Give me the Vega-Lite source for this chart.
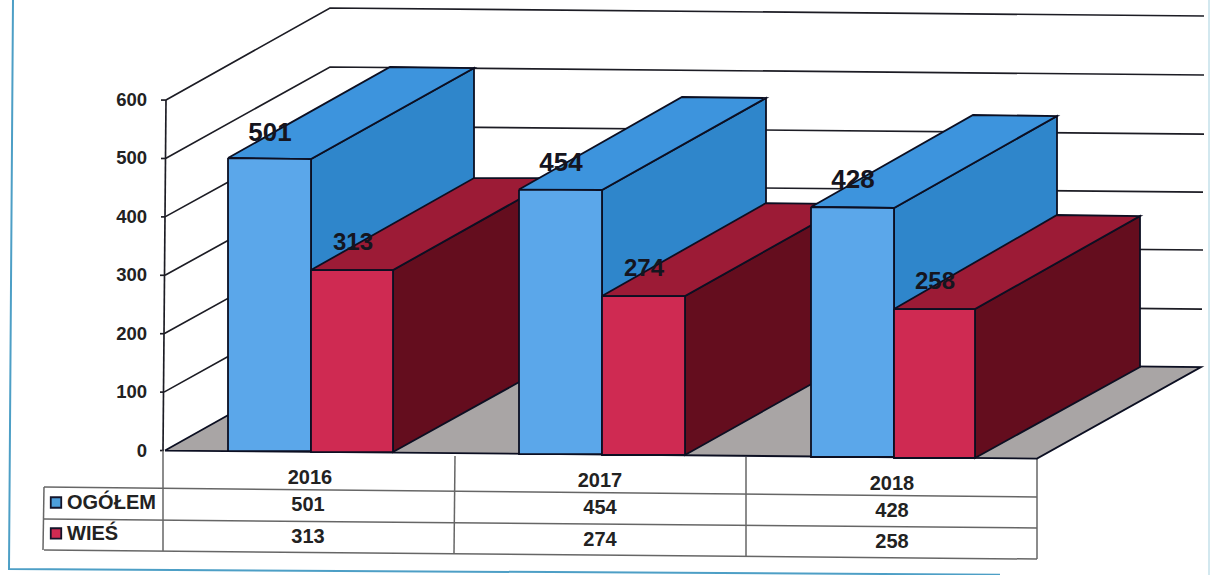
{"$schema":"https://vega.github.io/schema/vega-lite/v6.json","width":1210,"height":575,"autosize":"none","padding":0,"background":"#ffffff","view":{"stroke":null},
"datasets":{
"lines":[
{"id":"frameL","kind":"frame","across":13,"reading":771.3,"i":0},{"id":"frameL","kind":"frame","across":9,"reading":-202.9,"i":1},{"id":"frameL","kind":"frame","across":1000,"reading":-212.5,"i":2},
{"id":"frameR","kind":"frame light","across":1209,"reading":771.3,"i":0},{"id":"frameR","kind":"frame light","across":1209,"reading":-213,"i":1},
{"id":"g600","kind":"grid","across":166,"reading":600,"i":0},{"id":"g600","kind":"grid","across":330,"reading":757.6,"i":1},{"id":"g600","kind":"grid","across":1204,"reading":743.9,"i":2},
{"id":"g500","kind":"grid","across":165.5,"reading":500,"i":0},{"id":"g500","kind":"grid","across":330,"reading":656.6,"i":1},{"id":"g500","kind":"grid","across":1204,"reading":642.9,"i":2},
{"id":"g400","kind":"grid","across":165,"reading":400,"i":0},{"id":"g400","kind":"grid","across":330,"reading":555.5,"i":1},{"id":"g400","kind":"grid","across":1204,"reading":541.8,"i":2},
{"id":"g300","kind":"grid","across":165,"reading":300,"i":0},{"id":"g300","kind":"grid","across":330,"reading":456.2,"i":1},{"id":"g300","kind":"grid","across":1203,"reading":442.5,"i":2},
{"id":"g200","kind":"grid","across":164,"reading":200,"i":0},{"id":"g200","kind":"grid","across":330,"reading":356.9,"i":1},{"id":"g200","kind":"grid","across":1203,"reading":343.3,"i":2},
{"id":"g100","kind":"grid","across":164,"reading":100,"i":0},{"id":"g100","kind":"grid","across":330,"reading":257.7,"i":1},{"id":"g100","kind":"grid","across":1202,"reading":242.2,"i":2},
{"id":"axis","kind":"grid","across":166,"reading":600,"i":0},{"id":"axis","kind":"grid","across":163,"reading":0,"i":1},
{"id":"t600","kind":"grid","across":161,"reading":600,"i":0},{"id":"t600","kind":"grid","across":166,"reading":600,"i":1},
{"id":"t500","kind":"grid","across":161,"reading":500,"i":0},{"id":"t500","kind":"grid","across":166,"reading":500,"i":1},
{"id":"t400","kind":"grid","across":161,"reading":400,"i":0},{"id":"t400","kind":"grid","across":165,"reading":400,"i":1},
{"id":"t300","kind":"grid","across":160,"reading":300,"i":0},{"id":"t300","kind":"grid","across":165,"reading":300,"i":1},
{"id":"t200","kind":"grid","across":160,"reading":200,"i":0},{"id":"t200","kind":"grid","across":164,"reading":200,"i":1},
{"id":"t100","kind":"grid","across":160,"reading":100,"i":0},{"id":"t100","kind":"grid","across":164,"reading":100,"i":1},
{"id":"t0","kind":"grid","across":160,"reading":0,"i":0},{"id":"t0","kind":"grid","across":164,"reading":0,"i":1},
{"id":"h1","kind":"table","across":44,"reading":-62.5,"i":0},{"id":"h1","kind":"table","across":1037,"reading":-79.6,"i":1},
{"id":"h2","kind":"table","across":44,"reading":-117.3,"i":0},{"id":"h2","kind":"table","across":1037,"reading":-132.7,"i":1},
{"id":"h3","kind":"table","across":44,"reading":-170.3,"i":0},{"id":"h3","kind":"table","across":1037,"reading":-185.8,"i":1},
{"id":"v0","kind":"table","across":44,"reading":-62.5,"i":0},{"id":"v0","kind":"table","across":43,"reading":-170.3,"i":1},
{"id":"v1","kind":"table","across":163,"reading":0,"i":0},{"id":"v1","kind":"table","across":163,"reading":-172,"i":1},
{"id":"v2","kind":"table","across":455,"reading":-9.4,"i":0},{"id":"v2","kind":"table","across":454,"reading":-177.2,"i":1},
{"id":"v3","kind":"table","across":746,"reading":-11.1,"i":0},{"id":"v3","kind":"table","across":746,"reading":-180.6,"i":1},
{"id":"v4","kind":"table","across":1037,"reading":-13.7,"i":0},{"id":"v4","kind":"table","across":1037,"reading":-185.8,"i":1}
],
"faces":[
{"id":"floor","face":"floor","across":165,"reading":0,"i":0},{"id":"floor","face":"floor","across":1037,"reading":-13.7,"i":1},{"id":"floor","face":"floor","across":1201,"reading":143,"i":2},{"id":"floor","face":"floor","across":330,"reading":158.4,"i":3},{"id":"floor","face":"floor","across":165,"reading":0,"i":4},
{"id":"a1s","face":"blue side","across":311,"reading":499,"i":0},{"id":"a1s","face":"blue side","across":474,"reading":654.8,"i":1},{"id":"a1s","face":"blue side","across":474,"reading":154.9,"i":2},{"id":"a1s","face":"blue side","across":311,"reading":-1,"i":3},{"id":"a1s","face":"blue side","across":311,"reading":499,"i":4},
{"id":"a1t","face":"blue top","across":228,"reading":500.8,"i":0},{"id":"a1t","face":"blue top","across":311,"reading":499,"i":1},{"id":"a1t","face":"blue top","across":474,"reading":654.8,"i":2},{"id":"a1t","face":"blue top","across":390,"reading":656.6,"i":3},{"id":"a1t","face":"blue top","across":228,"reading":500.8,"i":4},
{"id":"a1f","face":"blue front","across":228,"reading":500.8,"i":0},{"id":"a1f","face":"blue front","across":311,"reading":499,"i":1},{"id":"a1f","face":"blue front","across":311,"reading":-1,"i":2},{"id":"a1f","face":"blue front","across":228,"reading":-1,"i":3},{"id":"a1f","face":"blue front","across":228,"reading":500.8,"i":4},
{"id":"b1s","face":"red side","across":393,"reading":309,"i":0},{"id":"b1s","face":"red side","across":557,"reading":466.5,"i":1},{"id":"b1s","face":"red side","across":557,"reading":153.2,"i":2},{"id":"b1s","face":"red side","across":393,"reading":-2.6,"i":3},{"id":"b1s","face":"red side","across":393,"reading":309,"i":4},
{"id":"b1t","face":"red top","across":311,"reading":309,"i":0},{"id":"b1t","face":"red top","across":393,"reading":309,"i":1},{"id":"b1t","face":"red top","across":557,"reading":466.5,"i":2},{"id":"b1t","face":"red top","across":474,"reading":466.5,"i":3},{"id":"b1t","face":"red top","across":311,"reading":309,"i":4},
{"id":"b1f","face":"red front","across":311,"reading":309,"i":0},{"id":"b1f","face":"red front","across":393,"reading":309,"i":1},{"id":"b1f","face":"red front","across":393,"reading":-2.6,"i":2},{"id":"b1f","face":"red front","across":311,"reading":-2.6,"i":3},{"id":"b1f","face":"red front","across":311,"reading":309,"i":4},
{"id":"a2s","face":"blue side","across":602,"reading":446,"i":0},{"id":"a2s","face":"blue side","across":766,"reading":603.5,"i":1},{"id":"a2s","face":"blue side","across":766,"reading":151.5,"i":2},{"id":"a2s","face":"blue side","across":602,"reading":-6,"i":3},{"id":"a2s","face":"blue side","across":602,"reading":446,"i":4},
{"id":"a2t","face":"blue top","across":519,"reading":446.8,"i":0},{"id":"a2t","face":"blue top","across":602,"reading":446,"i":1},{"id":"a2t","face":"blue top","across":766,"reading":603.5,"i":2},{"id":"a2t","face":"blue top","across":682,"reading":605.2,"i":3},{"id":"a2t","face":"blue top","across":519,"reading":446.8,"i":4},
{"id":"a2f","face":"blue front","across":519,"reading":446.8,"i":0},{"id":"a2f","face":"blue front","across":602,"reading":446,"i":1},{"id":"a2f","face":"blue front","across":602,"reading":-6,"i":2},{"id":"a2f","face":"blue front","across":519,"reading":-6,"i":3},{"id":"a2f","face":"blue front","across":519,"reading":446.8,"i":4},
{"id":"b2s","face":"red side","across":685,"reading":264.5,"i":0},{"id":"b2s","face":"red side","across":849,"reading":422,"i":1},{"id":"b2s","face":"red side","across":849,"reading":149.8,"i":2},{"id":"b2s","face":"red side","across":685,"reading":-7.7,"i":3},{"id":"b2s","face":"red side","across":685,"reading":264.5,"i":4},
{"id":"b2t","face":"red top","across":602,"reading":264.5,"i":0},{"id":"b2t","face":"red top","across":685,"reading":264.5,"i":1},{"id":"b2t","face":"red top","across":849,"reading":422,"i":2},{"id":"b2t","face":"red top","across":766,"reading":423.7,"i":3},{"id":"b2t","face":"red top","across":602,"reading":264.5,"i":4},
{"id":"b2f","face":"red front","across":602,"reading":264.5,"i":0},{"id":"b2f","face":"red front","across":685,"reading":264.5,"i":1},{"id":"b2f","face":"red front","across":685,"reading":-7.7,"i":2},{"id":"b2f","face":"red front","across":602,"reading":-7.7,"i":3},{"id":"b2f","face":"red front","across":602,"reading":264.5,"i":4},
{"id":"a3s","face":"blue side","across":894,"reading":415.2,"i":0},{"id":"a3s","face":"blue side","across":1057,"reading":572.7,"i":1},{"id":"a3s","face":"blue side","across":1057,"reading":144.7,"i":2},{"id":"a3s","face":"blue side","across":894,"reading":-11.1,"i":3},{"id":"a3s","face":"blue side","across":894,"reading":415.2,"i":4},
{"id":"a3t","face":"blue top","across":811,"reading":416.9,"i":0},{"id":"a3t","face":"blue top","across":894,"reading":415.2,"i":1},{"id":"a3t","face":"blue top","across":1057,"reading":572.7,"i":2},{"id":"a3t","face":"blue top","across":973,"reading":574.4,"i":3},{"id":"a3t","face":"blue top","across":811,"reading":416.9,"i":4},
{"id":"a3f","face":"blue front","across":811,"reading":416.9,"i":0},{"id":"a3f","face":"blue front","across":894,"reading":415.2,"i":1},{"id":"a3f","face":"blue front","across":894,"reading":-11.1,"i":2},{"id":"a3f","face":"blue front","across":811,"reading":-11.1,"i":3},{"id":"a3f","face":"blue front","across":811,"reading":416.9,"i":4},
{"id":"b3s","face":"red side","across":975,"reading":242.2,"i":0},{"id":"b3s","face":"red side","across":1140,"reading":401.5,"i":1},{"id":"b3s","face":"red side","across":1140,"reading":143,"i":2},{"id":"b3s","face":"red side","across":975,"reading":-12.8,"i":3},{"id":"b3s","face":"red side","across":975,"reading":242.2,"i":4},
{"id":"b3t","face":"red top","across":894,"reading":242.2,"i":0},{"id":"b3t","face":"red top","across":975,"reading":242.2,"i":1},{"id":"b3t","face":"red top","across":1140,"reading":401.5,"i":2},{"id":"b3t","face":"red top","across":1057,"reading":403.2,"i":3},{"id":"b3t","face":"red top","across":894,"reading":242.2,"i":4},
{"id":"b3f","face":"red front","across":894,"reading":242.2,"i":0},{"id":"b3f","face":"red front","across":975,"reading":242.2,"i":1},{"id":"b3f","face":"red front","across":975,"reading":-12.8,"i":2},{"id":"b3f","face":"red front","across":894,"reading":-12.8,"i":3},{"id":"b3f","face":"red front","across":894,"reading":242.2,"i":4}
],
"axisLabels":[{"t":"600","across":147,"reading":600},{"t":"500","across":147,"reading":500},{"t":"400","across":147,"reading":400},{"t":"300","across":147,"reading":300},{"t":"200","across":147,"reading":200},{"t":"100","across":147,"reading":100},{"t":"0","across":147,"reading":0}],
"barLabels":[{"t":"501","across":270,"reading":543.6,"s":"big"},{"t":"454","across":561,"reading":492.2,"s":"big"},{"t":"428","across":853,"reading":463.1,"s":"big"},{"t":"313","across":353,"reading":355.2,"s":"small"},{"t":"274","across":644,"reading":310.7,"s":"small"},{"t":"258","across":935,"reading":288.5,"s":"small"}],
"tableText":[{"t":"2016","across":310,"reading":-47.1},{"t":"2017","across":600,"reading":-52.2},{"t":"2018","across":892,"reading":-57.4},{"t":"501","across":308,"reading":-93.3},{"t":"454","across":600,"reading":-98.4},{"t":"428","across":892,"reading":-103.6},{"t":"313","across":308,"reading":-148.1},{"t":"274","across":600,"reading":-153.2},{"t":"258","across":892,"reading":-156.6}],
"legendRows":[{"t":"OGÓŁEM","series":"OGÓŁEM","across":67,"reading":-89.9,"keyAcross":56,"keyReading":-89},{"t":"WIEŚ","series":"WIEŚ","across":67,"reading":-143,"keyAcross":56,"keyReading":-142}]
},
"encoding":{
"x":{"field":"across","type":"quantitative","axis":null,"scale":{"domain":[0,1210],"nice":false,"zero":false}},
"y":{"field":"reading","type":"quantitative","axis":null,"scale":{"domain":[-213.1,771.3],"nice":false,"zero":false}}
},
"layer":[
{"data":{"name":"lines"},"mark":{"type":"line","interpolate":"linear"},"encoding":{"detail":{"field":"id"},"order":{"field":"i"},
"stroke":{"field":"kind","type":"nominal","legend":null,"scale":{"domain":["frame","frame light","grid","table"],"range":["#4d9fc6","#cfe6ee","#1c1c24","#666666"]}},
"strokeWidth":{"field":"kind","type":"nominal","legend":null,"scale":{"domain":["frame","frame light","grid","table"],"range":[2,1.5,1.8,1.2]}}}},
{"data":{"name":"faces"},"mark":{"type":"line","interpolate":"linear","stroke":"#0c0f22","strokeWidth":1.8,"strokeJoin":"miter"},"encoding":{"detail":{"field":"id"},"order":{"field":"i"},
"fill":{"field":"face","type":"nominal","legend":null,"scale":{"domain":["floor","blue front","blue side","blue top","red front","red side","red top"],"range":["#a9a5a5","#5ba7ea","#2f86cb","#3d94dd","#cf2a52","#640d1e","#9c1b36"]}}}},
{"data":{"name":"axisLabels"},"mark":{"type":"text","align":"right","baseline":"middle","font":"Liberation Sans","fontWeight":"bold","fontSize":18.5,"fill":"#222222"},"encoding":{"text":{"field":"t"}}},
{"data":{"name":"barLabels"},"mark":{"type":"text","align":"center","baseline":"middle","font":"Liberation Sans","fontWeight":"bold","fill":"#15151f"},"encoding":{"text":{"field":"t"},"size":{"field":"s","type":"nominal","legend":null,"scale":{"domain":["big","small"],"range":[26,24]}}}},
{"data":{"name":"tableText"},"mark":{"type":"text","align":"center","baseline":"middle","font":"Liberation Sans","fontWeight":"bold","fontSize":20,"fill":"#222222"},"encoding":{"text":{"field":"t"}}},
{"data":{"name":"legendRows"},"mark":{"type":"text","align":"left","baseline":"middle","font":"Liberation Sans","fontWeight":"bold","fontSize":20,"fill":"#222222"},"encoding":{"text":{"field":"t"}}},
{"data":{"name":"legendRows"},"mark":{"type":"point","shape":"square","filled":true,"size":110,"stroke":"#14142a","strokeWidth":1.8,"opacity":1},"encoding":{"x":{"field":"keyAcross","type":"quantitative"},"y":{"field":"keyReading","type":"quantitative"},
"fill":{"field":"series","type":"nominal","legend":null,"scale":{"domain":["OGÓŁEM","WIEŚ"],"range":["#4d9fdc","#cf2a52"]}}}}
],
"resolve":{"scale":{"fill":"independent","stroke":"independent","strokeWidth":"independent"}}
}
